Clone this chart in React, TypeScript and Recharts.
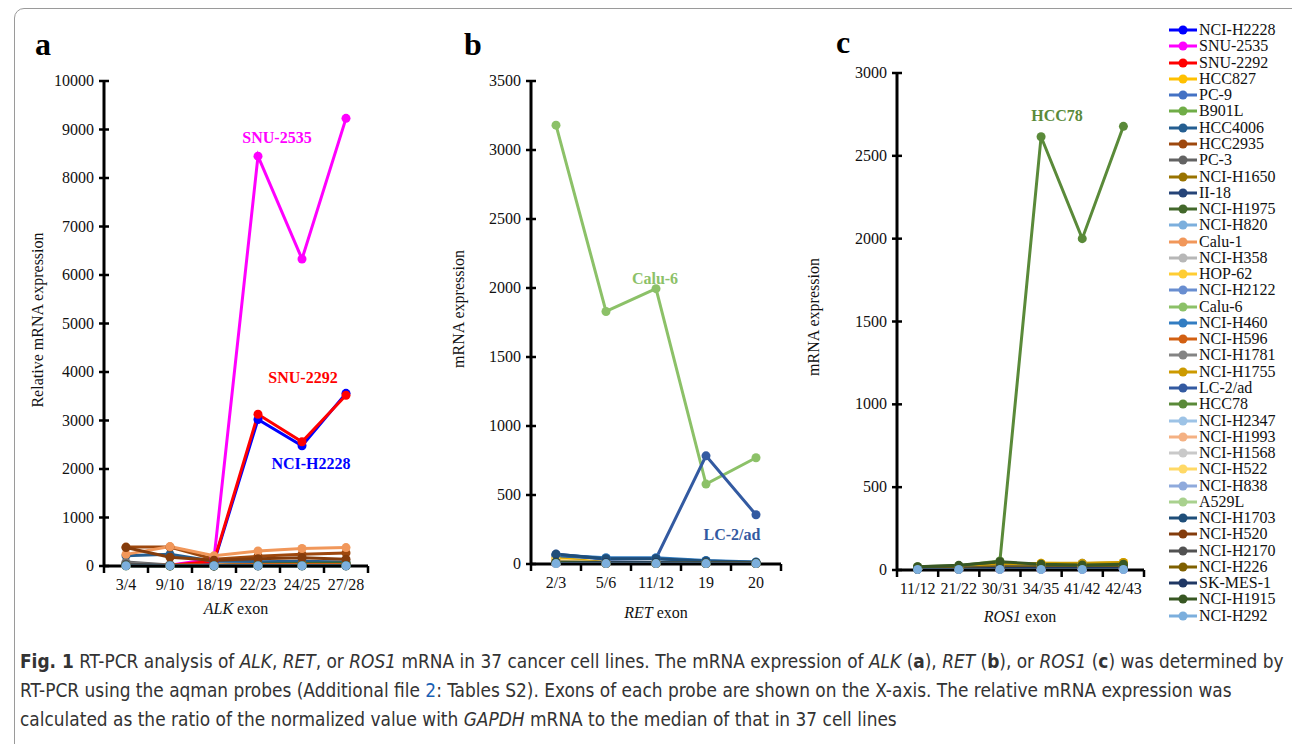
import React from "react";
import { LineChart, Line, XAxis, YAxis, Legend, ReferenceDot } from "recharts";

const SERIF = "'Liberation Serif', 'Times New Roman', serif";
const CAPTION_FONT = "'Liberation Sans Narrow', 'DejaVu Sans Condensed', 'Roboto', sans-serif";

const cellLines = [
  "NCI-H2228", "SNU-2535", "SNU-2292", "HCC827", "PC-9", "B901L", "HCC4006", "HCC2935",
  "PC-3", "NCI-H1650", "II-18", "NCI-H1975", "NCI-H820", "Calu-1", "NCI-H358", "HOP-62",
  "NCI-H2122", "Calu-6", "NCI-H460", "NCI-H596", "NCI-H1781", "NCI-H1755", "LC-2/ad", "HCC78",
  "NCI-H2347", "NCI-H1993", "NCI-H1568", "NCI-H522", "NCI-H838", "A529L", "NCI-H1703", "NCI-H520",
  "NCI-H2170", "NCI-H226", "SK-MES-1", "NCI-H1915", "NCI-H292",
];

const lineColors = [
  "#0000FF", "#FF00FF", "#FF0000", "#FFC000", "#4472C4", "#70AD47", "#255E91", "#9E480E",
  "#636363", "#997300", "#264478", "#43682B", "#7CAFDD", "#F1975A", "#B7B7B7", "#FFCD33",
  "#698ED0", "#8CC168", "#327DC2", "#D26012", "#848484", "#CC9A00", "#335AA1", "#5A8A39",
  "#9DC3E6", "#F4B183", "#C9C9C9", "#FFD966", "#8FAADC", "#A9D18E", "#1F4E79", "#843C0C",
  "#525252", "#7F6000", "#203864", "#385723", "#7CAFDD",
];

const alkExons = ["3/4", "9/10", "18/19", "22/23", "24/25", "27/28"];
const retExons = ["2/3", "5/6", "11/12", "19", "20"];
const ros1Exons = ["11/12", "21/22", "30/31", "34/35", "41/42", "42/43"];

const alkTicks = [0, 1000, 2000, 3000, 4000, 5000, 6000, 7000, 8000, 9000, 10000];
const retTicks = [0, 500, 1000, 1500, 2000, 2500, 3000, 3500];
const ros1Ticks = [0, 500, 1000, 1500, 2000, 2500, 3000];

// one row per cell line, one value per exon probe
const alkValues = [
  [30, 20, 80, 3020, 2480, 3560],
  [25, 15, 150, 8450, 6330, 9230],
  [20, 15, 100, 3130, 2560, 3520],
  [10, 5, 5, 10, 10, 10],
  [15, 10, 5, 10, 15, 10],
  [20, 10, 10, 30, 40, 50],
  [210, 240, 100, 90, 100, 80],
  [390, 390, 140, 200, 240, 270],
  [80, 20, 10, 20, 20, 20],
  [20, 10, 10, 20, 25, 20],
  [15, 5, 5, 10, 10, 10],
  [10, 10, 10, 40, 50, 60],
  [5, 5, 5, 5, 5, 5],
  [240, 400, 210, 310, 360, 380],
  [10, 5, 5, 5, 5, 5],
  [5, 5, 5, 5, 5, 5],
  [10, 5, 5, 5, 5, 5],
  [10, 5, 5, 10, 10, 10],
  [5, 5, 5, 5, 5, 5],
  [30, 20, 20, 30, 30, 30],
  [60, 10, 5, 10, 10, 10],
  [10, 5, 5, 10, 10, 10],
  [20, 10, 5, 10, 10, 10],
  [10, 5, 5, 10, 10, 10],
  [5, 5, 5, 5, 5, 5],
  [10, 10, 5, 10, 10, 10],
  [5, 5, 5, 5, 5, 5],
  [5, 5, 5, 5, 5, 5],
  [5, 5, 5, 5, 5, 5],
  [5, 5, 5, 5, 5, 5],
  [15, 10, 5, 10, 10, 10],
  [380, 180, 120, 150, 170, 140],
  [40, 10, 5, 10, 10, 10],
  [10, 5, 5, 10, 10, 10],
  [10, 5, 5, 5, 5, 5],
  [10, 5, 5, 10, 10, 10],
  [5, 5, 5, 5, 5, 5],
];

const retValues = [
  [5, 5, 5, 5, 5],
  [5, 5, 5, 5, 5],
  [5, 5, 5, 5, 5],
  [45, 10, 10, 5, 5],
  [20, 10, 10, 5, 5],
  [10, 5, 5, 5, 5],
  [60, 40, 40, 20, 10],
  [10, 5, 5, 5, 5],
  [10, 5, 5, 5, 5],
  [15, 5, 5, 5, 5],
  [20, 10, 10, 5, 5],
  [10, 5, 5, 5, 5],
  [5, 5, 5, 5, 5],
  [10, 5, 5, 5, 5],
  [5, 5, 5, 5, 5],
  [20, 5, 5, 5, 5],
  [10, 5, 5, 5, 5],
  [3180, 1830, 1995, 579, 770],
  [65, 45, 45, 25, 15],
  [10, 5, 5, 5, 5],
  [10, 5, 5, 5, 5],
  [35, 10, 10, 5, 5],
  [72, 35, 40, 784, 357],
  [10, 5, 5, 5, 5],
  [5, 5, 5, 5, 5],
  [10, 5, 5, 5, 5],
  [5, 5, 5, 5, 5],
  [30, 5, 5, 5, 5],
  [5, 5, 5, 5, 5],
  [5, 5, 5, 5, 5],
  [70, 38, 38, 22, 12],
  [10, 5, 5, 5, 5],
  [10, 5, 5, 5, 5],
  [10, 5, 5, 5, 5],
  [15, 10, 10, 5, 5],
  [10, 5, 5, 5, 5],
  [3, 3, 3, 3, 3],
];

const ros1Values = [
  [5, 5, 5, 5, 5, 5],
  [5, 5, 5, 5, 5, 5],
  [5, 5, 5, 5, 5, 5],
  [10, 15, 30, 40, 38, 45],
  [5, 5, 10, 10, 10, 10],
  [5, 5, 10, 15, 15, 15],
  [10, 10, 15, 20, 20, 20],
  [5, 5, 10, 10, 10, 10],
  [5, 10, 15, 20, 25, 20],
  [5, 10, 20, 25, 25, 30],
  [5, 5, 10, 10, 10, 10],
  [15, 20, 40, 30, 25, 30],
  [5, 5, 5, 5, 5, 5],
  [5, 5, 10, 10, 10, 10],
  [5, 5, 10, 15, 15, 15],
  [5, 10, 15, 20, 20, 25],
  [5, 5, 10, 10, 10, 10],
  [5, 5, 10, 15, 15, 15],
  [5, 5, 10, 10, 10, 10],
  [5, 5, 10, 15, 15, 15],
  [10, 10, 20, 25, 40, 30],
  [10, 15, 30, 40, 40, 45],
  [5, 5, 10, 10, 10, 10],
  [20, 25, 55, 2615, 2000, 2678],
  [5, 5, 5, 5, 5, 5],
  [5, 5, 10, 10, 10, 10],
  [5, 5, 10, 15, 15, 15],
  [5, 10, 15, 20, 20, 25],
  [5, 5, 10, 10, 10, 10],
  [5, 5, 10, 10, 10, 10],
  [5, 10, 15, 15, 15, 15],
  [5, 5, 10, 15, 15, 15],
  [5, 10, 20, 20, 25, 20],
  [5, 10, 15, 20, 20, 20],
  [5, 5, 10, 10, 10, 10],
  [20, 28, 50, 35, 30, 35],
  [3, 3, 3, 3, 3, 3],
];

const buildRows = (exons: string[], values: number[][]) =>
  exons.map((exon, i) => {
    const row: Record<string, string | number> = { exon };
    values.forEach((v, j) => {
      row["s" + j] = v[i];
    });
    return row;
  });

const makeXTick = (band: number) => (props: any) => {
  const { x, y, payload, index } = props;
  return (
    <g>
      <text x={x} y={y + 24} textAnchor="middle" fontSize={16} fontFamily={SERIF} fill="#111">
        {payload.value}
      </text>
      <line x1={x + band / 2} x2={x + band / 2} y1={y} y2={y + 7} stroke="#000" strokeWidth={2.5} />
      {index === 0 && (
        <line x1={x - band / 2} x2={x - band / 2} y1={y} y2={y + 7} stroke="#000" strokeWidth={2.5} />
      )}
    </g>
  );
};

const YTick = (props: any) => {
  const { x, y, payload } = props;
  return (
    <g>
      <line x1={x - 5} x2={x + 5} y1={y} y2={y} stroke="#000" strokeWidth={2.5} />
      <text x={x - 10} y={y + 5} textAnchor="end" fontSize={16} fontFamily={SERIF} fill="#111">
        {payload.value}
      </text>
    </g>
  );
};

const renderLegend = () => (
  <div style={{ fontFamily: SERIF, fontSize: 16, color: "#111" }}>
    {cellLines.map((name, i) => (
      <div key={name} style={{ display: "flex", alignItems: "center", height: 16.28, whiteSpace: "nowrap" }}>
        <svg width={30} height={10} style={{ flex: "none" }}>
          <line x1={1} x2={29} y1={5} y2={5} stroke={lineColors[i]} strokeWidth={3} />
          <circle cx={15} cy={5} r={4.5} fill={lineColors[i]} />
        </svg>
        <span style={{ marginLeft: 1 }}>{name}</span>
      </div>
    ))}
  </div>
);

type Note = { x: string; y: number; text: string; color: string; dx: number };

const alkNotes: Note[] = [
  { x: "22/23", y: 8845, text: "SNU-2535", color: "#FF00FF", dx: 19 },
  { x: "24/25", y: 3897, text: "SNU-2292", color: "#FF0000", dx: 1 },
  { x: "24/25", y: 2124, text: "NCI-H2228", color: "#0000FF", dx: 9 },
];
const retNotes: Note[] = [
  { x: "11/12", y: 2071, text: "Calu-6", color: "#8CC168", dx: -1 },
  { x: "20", y: 217, text: "LC-2/ad", color: "#335AA1", dx: -24 },
];
const ros1Notes: Note[] = [{ x: "34/35", y: 2744, text: "HCC78", color: "#5A8A39", dx: 16 }];

type PanelProps = {
  left: number;
  width: number;
  height: number;
  top: number;
  right: number;
  yWidth: number;
  band: number;
  exons: string[];
  values: number[][];
  ticks: number[];
  notes: Note[];
  legend?: boolean;
};

function Panel(p: PanelProps) {
  const rows = buildRows(p.exons, p.values);
  const max = p.ticks[p.ticks.length - 1];
  return (
    <div style={{ position: "absolute", left: p.left, top: 0 }}>
      <LineChart
        width={p.width}
        height={p.height}
        data={rows}
        margin={{ top: p.top, right: p.right, bottom: 0, left: 0 }}
      >
        <XAxis
          dataKey="exon"
          height={64}
          interval={0}
          padding={{ left: p.band / 2, right: p.band / 2 }}
          tickSize={0}
          tickMargin={0}
          tickLine={false}
          axisLine={{ stroke: "#000", strokeWidth: 3 }}
          tick={makeXTick(p.band)}
        />
        <YAxis
          width={p.yWidth}
          domain={[0, max]}
          ticks={p.ticks}
          interval={0}
          tickSize={0}
          tickMargin={0}
          tickLine={false}
          axisLine={{ stroke: "#000", strokeWidth: 3 }}
          tick={YTick}
        />
        {cellLines.map((name, j) => (
          <Line
            key={name}
            name={name}
            dataKey={"s" + j}
            stroke={lineColors[j]}
            strokeWidth={3}
            dot={{ r: 4.5, fill: lineColors[j], stroke: lineColors[j], strokeWidth: 0 }}
            activeDot={false}
            isAnimationActive={false}
          />
        ))}
        {p.notes.map((n) => (
          <ReferenceDot
            key={n.text}
            x={n.x}
            y={n.y}
            r={0}
            fill="none"
            stroke="none"
            label={{
              value: n.text,
              position: "center",
              dx: n.dx,
              fill: n.color,
              fontSize: 16,
              fontWeight: "bold",
              fontFamily: SERIF,
            }}
          />
        ))}
        {p.legend && (
          <Legend
            layout="horizontal"
            verticalAlign="middle"
            align="center"
            content={renderLegend}
            wrapperStyle={{ left: 368, top: 22, width: 124 }}
          />
        )}
      </LineChart>
    </div>
  );
}

export default function App() {
  return (
    <div style={{ position: "absolute", left: 0, top: 0, width: 1292, height: 744, background: "#fff", overflow: "hidden" }}>
      <div
        style={{
          position: "absolute",
          left: 14,
          top: 8,
          width: 1300,
          height: 760,
          border: "1px solid #9a9a9a",
          borderRadius: 10,
        }}
      />
      <Panel left={0} width={380} height={630} top={81} right={12} yWidth={104} band={44}
        exons={alkExons} values={alkValues} ticks={alkTicks} notes={alkNotes} />
      <Panel left={440} width={349} height={628} top={81} right={8} yWidth={91} band={50}
        exons={retExons} values={retValues} ticks={retTicks} notes={retNotes} />
      <Panel left={800} width={492} height={634} top={73} right={148} yWidth={97} band={41.17}
        exons={ros1Exons} values={ros1Values} ticks={ros1Ticks} notes={ros1Notes} legend />
      <svg width={1292} height={744} style={{ position: "absolute", left: 0, top: 0, pointerEvents: "none" }}>
        <g fontFamily={SERIF} fontWeight="bold" fontSize={32} fill="#000">
          <text x={35} y={55}>a</text>
          <text x={464} y={55}>b</text>
          <text x={836} y={53}>c</text>
        </g>
        <g fontFamily={SERIF} fontSize={16} fill="#111" textAnchor="middle">
          <text transform="translate(43,320) rotate(-90)">Relative mRNA expression</text>
          <text transform="translate(464,309) rotate(-90)">mRNA expression</text>
          <text transform="translate(819,317) rotate(-90)">mRNA expression</text>
          <text x={236} y={614}>
            <tspan fontStyle="italic">ALK</tspan> exon
          </text>
          <text x={656} y={618}>
            <tspan fontStyle="italic">RET</tspan> exon
          </text>
          <text x={1020} y={622}>
            <tspan fontStyle="italic">ROS1</tspan> exon
          </text>
        </g>
        <g fontFamily={CAPTION_FONT} fontSize={18.9} fill="#333">
          <text x={20} y={668}>
            <tspan fontWeight="bold">Fig. 1</tspan> RT-PCR analysis of <tspan fontStyle="italic">ALK</tspan>,{" "}
            <tspan fontStyle="italic">RET</tspan>, or <tspan fontStyle="italic">ROS1</tspan> mRNA in 37 cancer cell
            lines. The mRNA expression of <tspan fontStyle="italic">ALK</tspan> (<tspan fontWeight="bold">a</tspan>),{" "}
            <tspan fontStyle="italic">RET</tspan> (<tspan fontWeight="bold">b</tspan>), or{" "}
            <tspan fontStyle="italic">ROS1</tspan> (<tspan fontWeight="bold">c</tspan>) was determined by
          </text>
          <text x={20} y={697}>
            RT-PCR using the aqman probes (Additional file <tspan fill="#1A5FB4">2</tspan>: Tables S2). Exons of each
            probe are shown on the X-axis. The relative mRNA expression was
          </text>
          <text x={20} y={726}>
            calculated as the ratio of the normalized value with <tspan fontStyle="italic">GAPDH</tspan> mRNA to the
            median of that in 37 cell lines
          </text>
        </g>
      </svg>
    </div>
  );
}
